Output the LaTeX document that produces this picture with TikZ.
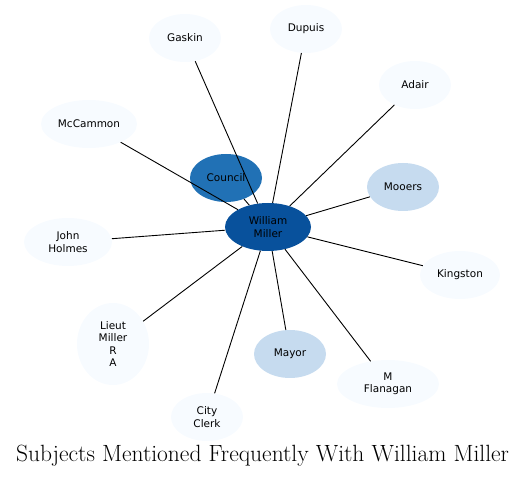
\documentclass[tikz,border=0pt]{standalone}
\usepackage{fontspec}
\newfontfamily\nodefont{DejaVu Sans}
\usepackage{tikz}
\usetikzlibrary{shapes.geometric}
\definecolor{hub}{RGB}{8, 81, 156}
\definecolor{strong}{RGB}{33, 113, 181}
\definecolor{mid}{RGB}{198, 219, 239}
\definecolor{pale}{RGB}{247, 251, 255}
\newcommand*{\rh}{48}

\begin{document}
\begin{tikzpicture}[
   x=1pt, y=-1pt,
   subj/.style={ellipse, draw=none, fill=pale, text=black, align=center,
                font=\nodefont\fontsize{10.5}{12.5}\selectfont,
                inner sep=0, minimum height=\rh, minimum width=72},
   subjmid/.style={subj, fill=mid},
   subjstrong/.style={subj, fill=strong},
   subjhub/.style={subj, fill=hub, minimum width=86},
   link/.style={draw=black, line width=0.9}
  ]

  \useasboundingbox (0, 0) rectangle (525, 478);

  % centre and neighbours
  \node (WM) at (268, 227) [subjhub] {William\\Miller};
  \node (CO) at (226, 178) [subjstrong] {Council};

  \node (GA) at (185, 38) [subj] {Gaskin};
  \node (DU) at (306, 29) [subj] {Dupuis};
  \node (AD) at (415, 85) [subj] {Adair};
  \node (MO) at (403, 187) [subjmid] {Mooers};
  \node (KI) at (460, 275) [subj, minimum width=80] {Kingston};
  \node (MF) at (388, 384) [subj, minimum width=102] {M\\Flanagan};
  \node (MA) at (290, 354) [subjmid] {Mayor};
  \node (CC) at (207, 417) [subj] {City\\Clerk};
  \node (LM) at (113, 344) [subj, minimum height=82] {Lieut\\Miller\\R\\A};
  \node (JH) at (68, 242) [subj, minimum width=88] {John\\Holmes};
  \node (MC) at (89, 124) [subj, minimum width=96] {McCammon};

  \foreach \E in {CO, GA, DU, AD, MO, KI, MF, MA, CC, LM, JH, MC} {
    \draw[link] (WM) -- (\E);
  }

  % title
  \node (T) at (262.5, 456) {\fontsize{23.5}{27}\selectfont Subjects Mentioned Frequently With William Miller};

\end{tikzpicture}
\end{document}
